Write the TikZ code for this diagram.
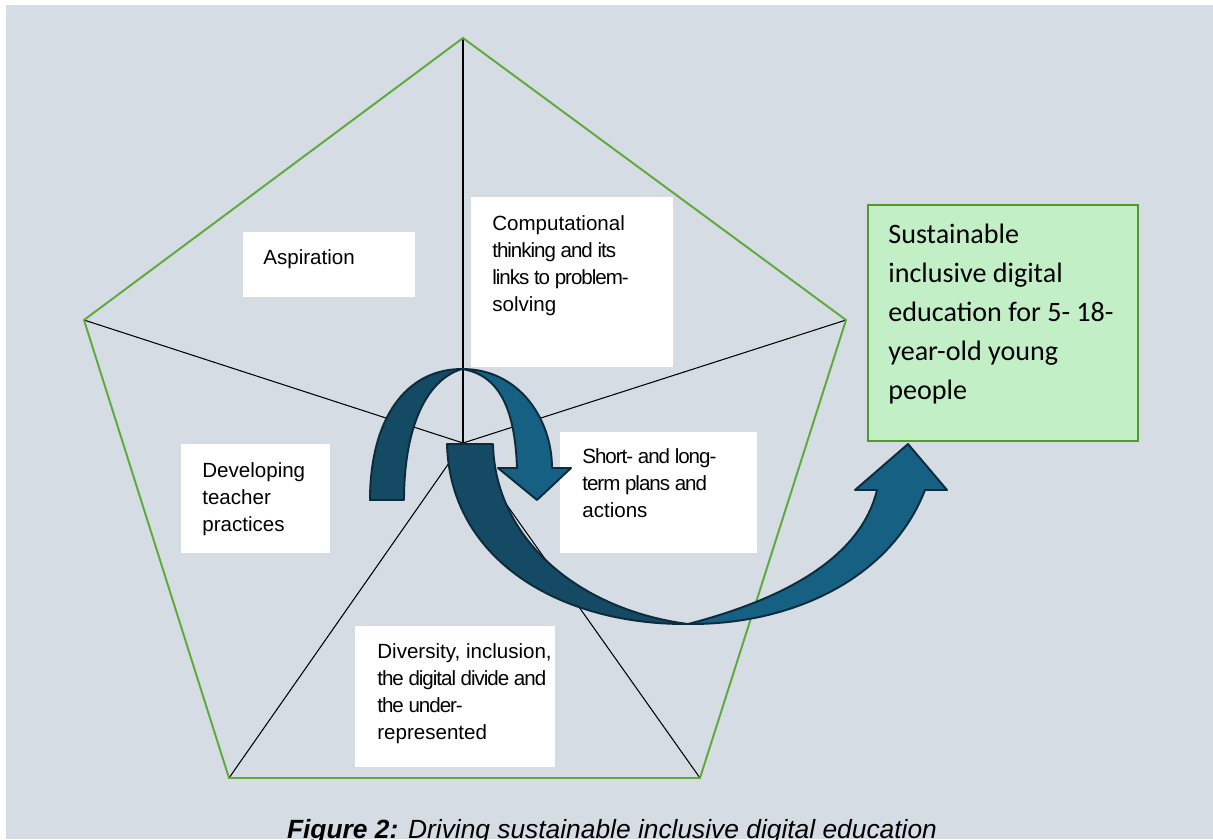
\documentclass[tikz,border=0pt]{standalone}
\usepackage{fontspec}
\setmainfont{Liberation Sans}
\newfontfamily\calibri{Carlito}
\usetikzlibrary{calc,positioning}
\definecolor{bgblue}{HTML}{D5DCE4}
\definecolor{rimgreen}{HTML}{5DAA3A}
\definecolor{goalfill}{HTML}{C2EFC6}
\definecolor{goaledge}{HTML}{52992E}
\definecolor{arrowdark}{HTML}{144A63}
\definecolor{arrowlight}{HTML}{166083}
\definecolor{arrowedge}{HTML}{0C2B3C}
\newcommand{\tightline}[1]{{\addfontfeature{LetterSpace=-5}#1}}

\begin{document}
\begin{tikzpicture}
	[   x=0.02cm, y=-0.02cm,
	    wbox/.style 2 args={fill=white,draw=none,minimum width=#1,minimum height=#2,anchor=north west,inner sep=0pt},
	    txt/.style={anchor=north west,inner sep=0pt,align=left,font=\fontsize{11.7pt}{15.4pt}\selectfont},
	    rim/.style={draw=rimgreen,line width=1.1pt},
	    spoke/.style={draw=black,line width=0.6pt},
	]
	\tikzset{arrowline/.style={draw=arrowedge,line width=1.1pt,line join=round}}
	\useasboundingbox (0,0) rectangle (1213,839);
	\fill[white] (0,0) rectangle (1213,839);
	\fill[bgblue] (6,5) rectangle (1213,839);
	
	% pentagon
	\coordinate (c) at (463,443);
	\coordinate (v-1) at (463,38);
	\coordinate (v-2) at (846,320);
	\coordinate (v-3) at (700,778);
	\coordinate (v-4) at (229,778);
	\coordinate (v-5) at (84,320);
	\foreach \i in {1,...,5}
	{
		\draw[spoke] (c) -- (v-\i);
	}
	\draw[rim] (v-1) -- (v-2) -- (v-3) -- (v-4) -- (v-5) -- cycle;
	
	\node[wbox={3.44cm}{1.30cm}] (asp) at (243,232) {};
	\node[wbox={4.04cm}{3.40cm}] (comp) at (471,197) {};
	\node[wbox={2.98cm}{2.18cm}] (dev) at (181,444) {};
	\node[wbox={3.94cm}{2.42cm}] (plan) at (560,432) {};
	\node[wbox={4.00cm}{2.82cm}] (div) at (355,626) {};
	
	\node[txt,below right=0.34cm and 0.40cm of asp.north west] (asp-t) {Aspiration};
	\node[txt,below right=0.36cm and 0.42cm of comp.north west] (comp-t) {Computational\\\tightline{thinking and its}\\\tightline{links to problem-}\\solving};
	\node[txt,below right=0.36cm and 0.42cm of dev.north west] (dev-t) {Developing\\teacher\\practices};
	\node[txt,below right=0.32cm and 0.44cm of plan.north west] (plan-t) {\tightline{Short- and long-}\\\tightline{term plans and}\\actions};
	\node[txt,below right=0.34cm and 0.44cm of div.north west] (div-t) {Diversity, inclusion,\\\tightline{the digital divide and}\\\tightline{the under-}\\represented};
	
	\node[fill=goalfill,draw=goaledge,line width=1.1pt,minimum width=5.40cm,minimum height=4.72cm,anchor=north west,inner sep=0pt] (goal) at (867,204) {};
	\node[anchor=north west,inner sep=0pt,align=left,font=\calibri\fontsize{16pt}{22.2pt}\selectfont,below right=0.40cm and 0.42cm of goal.north west] (goal-t) {Sustainable\\inclusive digital\\education for 5- 18-\\year-old young\\people};
	
	% curved arrows
	\filldraw[arrowline,fill=arrowdark] (370,500) .. controls (370,420) and (405,369) .. (462,369)
		.. controls (425,380) and (404,430) .. (404,500) -- cycle;
	\filldraw[arrowline,fill=arrowlight] (462,369) .. controls (520,369) and (552,420) .. (552,468)
		-- (571,468) -- (537,500) -- (498,468) -- (517,468)
		.. controls (515,410) and (500,375) .. (462,369) -- cycle;
	\filldraw[arrowline,fill=arrowdark] (447,444) -- (493,444) .. controls (495,540) and (580,610) .. (688,624)
		.. controls (560,625) and (450,560) .. (447,444) -- cycle;
	\filldraw[arrowline,fill=arrowlight] (688,624) .. controls (790,625) and (890,580) .. (925,490)
		-- (947,490) -- (908,444) -- (855,490) -- (877,490)
		.. controls (860,560) and (780,600) .. (688,624) -- cycle;
	
	\node[anchor=base,inner sep=0pt,font=\fontsize{15pt}{18pt}\selectfont\itshape] (cap) at (612,838) {\textbf{Figure 2:} Driving sustainable inclusive digital education};
\end{tikzpicture}
\end{document}
